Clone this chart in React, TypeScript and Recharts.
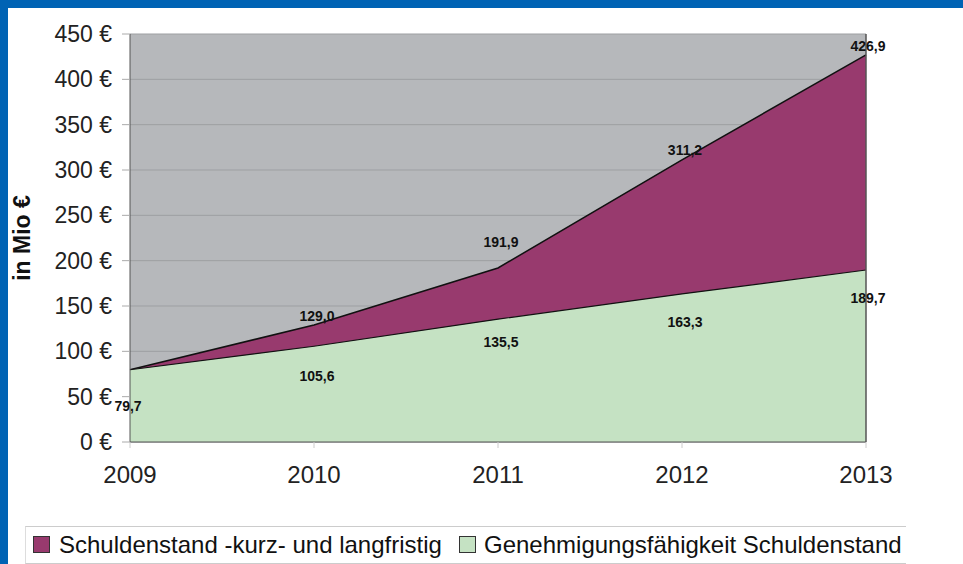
import { Area, AreaChart, CartesianGrid, LabelList, ReferenceLine, XAxis, YAxis } from 'recharts';

const years = ['2009', '2010', '2011', '2012', '2013'];
const schuldenstand = [79.7, 129.0, 191.9, 311.2, 426.9];
const genehmigung = [79.7, 105.6, 135.5, 163.3, 189.7];
const yTicks = [0, 50, 100, 150, 200, 250, 300, 350, 400, 450];

const data = years.map((year, i) => ({
  year,
  total: schuldenstand[i],
  green: genehmigung[i],
}));

// vertical label offsets (px) relative to the point
const totalDy = [0, -9, -26, -10, -9];
const greenDy = [36, 30, 23, 28, 28];

const fmt = (v: number) => v.toFixed(1).replace('.', ',');
const FONT = '"Liberation Sans", Arial, sans-serif';

const makeLabel = (dys: number[], skipFirst: boolean) => (props: any) => {
  const { x, y, value, index } = props;
  if (skipFirst && index === 0) return null;
  const dx = index === 0 ? -2 : index === 4 ? 2 : 3;
  return (
    <text
      x={x + dx}
      y={y + dys[index]}
      textAnchor="middle"
      dominantBaseline="central"
      fontFamily={FONT}
      fontWeight="bold"
      fontSize={14}
      fill="#111"
    >
      {fmt(value)}
    </text>
  );
};

export default function App() {
  return (
    <div style={{ position: 'absolute', left: 0, top: 0, width: 963, height: 564, background: '#fff', overflow: 'hidden' }}>
      <div style={{ position: 'absolute', left: 0, top: 0, width: 963, height: 8, background: '#0063b4' }} />
      <div style={{ position: 'absolute', left: 0, top: 0, width: 8, height: 564, background: '#0063b4' }} />
      <div
        style={{
          position: 'absolute',
          left: 22,
          top: 238,
          transform: 'translate(-50%, -50%) rotate(-90deg)',
          fontFamily: FONT,
          fontWeight: 'bold',
          fontSize: 23,
          whiteSpace: 'nowrap',
          color: '#111',
        }}
      >
        in Mio €
      </div>
      <div style={{ position: 'absolute', left: 0, top: 0 }}>
        <AreaChart width={963} height={564} data={data} margin={{ top: 34, right: 97, left: 0, bottom: 82 }}>
          <CartesianGrid vertical={false} fill="#b6b8bb" stroke="#9d9fa2" strokeWidth={1} />
          <XAxis
            dataKey="year"
            axisLine={{ stroke: '#555' }}
            tickLine={{ stroke: '#ccc' }}
            tickSize={6}
            height={40}
            tick={{ fontFamily: FONT, fontSize: 24, fill: '#222', dy: 16 }}
          />
          <YAxis
            width={130}
            domain={[0, 450]}
            ticks={yTicks}
            interval={0}
            axisLine={{ stroke: '#555' }}
            tickLine={{ stroke: '#aaa' }}
            tickSize={8}
            tickFormatter={(v: number) => `${v} €`}
            tick={{ fontFamily: FONT, fontSize: 23, fill: '#222', dx: -8 }}
          />
          <Area
            type="linear"
            dataKey="total"
            stroke="#111"
            strokeWidth={1.5}
            fill="#983a6e"
            fillOpacity={1}
            isAnimationActive={false}
          >
            <LabelList dataKey="total" content={makeLabel(totalDy, true)} />
          </Area>
          <Area
            type="linear"
            dataKey="green"
            stroke="#111"
            strokeWidth={1.2}
            fill="#c5e2c3"
            fillOpacity={1}
            isAnimationActive={false}
          >
            <LabelList dataKey="green" content={makeLabel(greenDy, false)} />
          </Area>
          <ReferenceLine x="2013" stroke="#555" strokeWidth={1.5} />
        </AreaChart>
      </div>
      <div
        style={{
          position: 'absolute',
          left: 25,
          top: 526,
          width: 880,
          height: 36,
          borderTop: '1px solid #ccc',
          borderBottom: '1px solid #ccc',
          borderLeft: '1px solid #ddd',
          fontFamily: FONT,
          fontSize: 24,
          color: '#111',
          whiteSpace: 'nowrap',
          overflow: 'hidden',
        }}
      >
        <span style={{ position: 'absolute', left: 7, top: 9, width: 15, height: 15, background: '#983a6e', border: '1px solid #333' }} />
        <span style={{ position: 'absolute', left: 33, top: 4, lineHeight: '28px' }}>Schuldenstand -kurz- und langfristig</span>
        <span style={{ position: 'absolute', left: 433, top: 9, width: 15, height: 15, background: '#c5e2c3', border: '1px solid #333' }} />
        <span style={{ position: 'absolute', left: 458, top: 4, lineHeight: '28px' }}>Genehmigungsfähigkeit Schuldenstand</span>
      </div>
    </div>
  );
}
